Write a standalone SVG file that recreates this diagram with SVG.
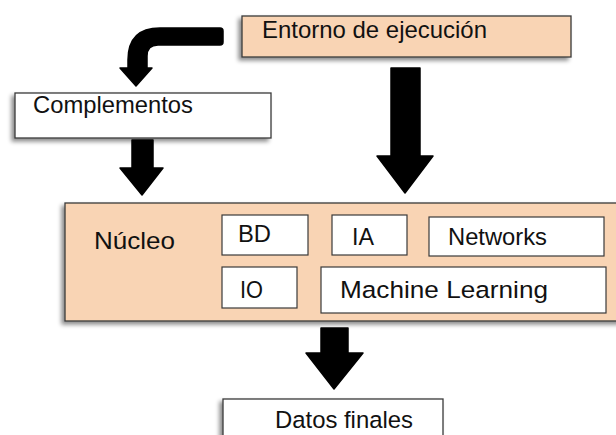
<svg xmlns="http://www.w3.org/2000/svg" width="616" height="435" viewBox="0 0 616 435">
<defs>
<filter id="sh" x="-10%" y="-20%" width="120%" height="150%">
<feDropShadow dx="-3" dy="3" stdDeviation="2" flood-color="#000" flood-opacity="0.45"/>
</filter>
</defs>
<style>
.peach{fill:#f9d4b4;stroke:#3a3a3a;stroke-width:1.3}
.white{fill:#ffffff;stroke:#3a3a3a;stroke-width:1.3}
.inner{fill:#ffffff;stroke:#3a3a3a;stroke-width:1.2}
text{font-family:"Liberation Sans",Arial,sans-serif;font-size:24.5px;fill:#111}
.arrow{fill:#000;stroke:#000;stroke-width:1.5;stroke-linejoin:round}
</style>
<rect width="616" height="435" fill="#fff"/>
<g id="connectors">
<path class="arrow" d="M220,28 L160,28 Q128,28 128,60 L128,68 L120,68 L136,86 L152,68 L147,68 L147,56 Q147,45 158,45 L220,45 Q223,45 223,42 L223,31 Q223,28 220,28 Z"/>
<path class="arrow" d="M391,68 L420,68 L420,156 L433,156 L405,193 L377,156 L391,156 Z"/>
<path class="arrow" d="M132,140 L153,140 L153,168 L163,168 L142,195 L120,168 L132,168 Z"/>
<path class="arrow" d="M321,328 L348,328 L348,353 L363,353 L334,389 L306,353 L321,353 Z"/>
</g>
<g id="entorno">
<rect class="peach" x="242" y="16" width="329" height="41" filter="url(#sh)"/>
<text x="262" y="38" textLength="225" lengthAdjust="spacingAndGlyphs">Entorno de ejecución</text>
</g>
<g id="complementos">
<rect class="white" x="15" y="93" width="256" height="45" filter="url(#sh)"/>
<text x="33" y="113" textLength="160" lengthAdjust="spacingAndGlyphs">Complementos</text>
</g>
<g id="nucleo">
<rect class="peach" x="65" y="203" width="560" height="118" filter="url(#sh)"/>
<text x="94" y="249" textLength="81" lengthAdjust="spacingAndGlyphs">Núcleo</text>
</g>
<g id="bd">
<rect class="inner" x="222" y="215" width="86" height="40"/>
<text x="238" y="242" textLength="33" lengthAdjust="spacingAndGlyphs">BD</text>
</g>
<g id="ia">
<rect class="inner" x="332" y="215" width="75" height="40"/>
<text x="352" y="245" textLength="22" lengthAdjust="spacingAndGlyphs">IA</text>
</g>
<g id="networks">
<rect class="inner" x="429" y="217" width="175" height="39"/>
<text x="448" y="245" textLength="99" lengthAdjust="spacingAndGlyphs">Networks</text>
</g>
<g id="io">
<rect class="inner" x="222" y="267" width="75" height="41"/>
<text x="240" y="298" textLength="23" lengthAdjust="spacingAndGlyphs">IO</text>
</g>
<g id="ml">
<rect class="inner" x="321" y="267" width="285" height="46"/>
<text x="340" y="298" textLength="208" lengthAdjust="spacingAndGlyphs">Machine Learning</text>
</g>
<g id="datos">
<rect class="white" x="223" y="399" width="220" height="45" filter="url(#sh)"/>
<text x="275" y="428" textLength="138" lengthAdjust="spacingAndGlyphs">Datos finales</text>
</g>
</svg>
